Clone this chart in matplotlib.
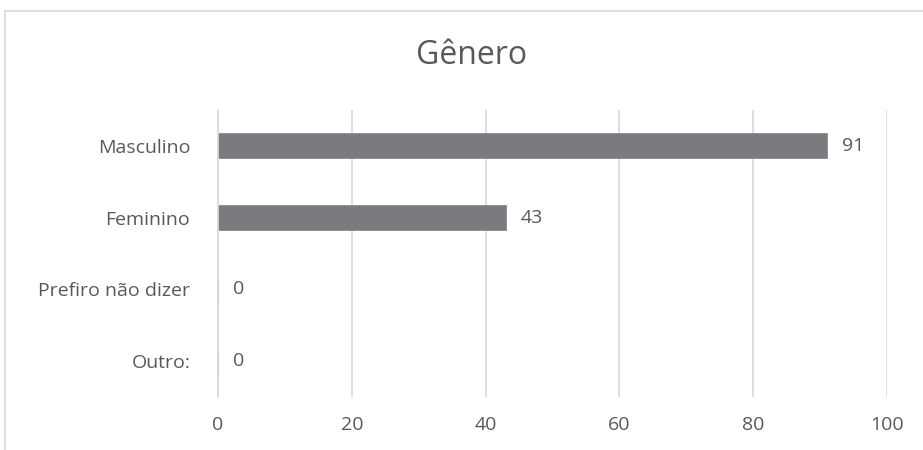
import matplotlib
matplotlib.use('Agg')
import matplotlib.pyplot as plt
from matplotlib.patches import Rectangle

# dados do gráfico
categorias = ['Masculino', 'Feminino', 'Prefiro não dizer', 'Outro:']
respostas = [91, 43, 0, 0]
x_ticks = [0, 20, 40, 60, 80, 100]
titulo = 'Gênero'

TEXT = '#595959'
GRID = '#d9d9d9'
BAR = '#7b7b7f'

plt.rcParams['font.family'] = ['Open Sans', 'DejaVu Sans']

fig = plt.figure(figsize=(9.23, 4.5), dpi=100)
ax = fig.add_axes([218 / 923, 1 - 397 / 450, (887 - 218) / 923, (397 - 110) / 450])

# moldura do gráfico (sai pela direita e por baixo)
fig.patches.append(Rectangle((5 / 923, -0.1), 1.2, 1 - 11 / 450 + 0.1,
                             transform=fig.transFigure, fill=False,
                             edgecolor=GRID, linewidth=1.2))

y = list(range(len(categorias)))
ax.barh(y, respostas, height=0.35, color=BAR, edgecolor='#8a8a8e', linewidth=0.6, zorder=3)
for yi, v in zip(y, respostas):
    ax.annotate(str(v), (v, yi), xytext=(11, 0), textcoords='offset points',
                ha='left', va='center', fontsize=14, color=TEXT)

ax.set_xlim(0, 100)
ax.set_ylim(len(categorias) - 0.5, -0.5)
ax.set_xticks(x_ticks)
ax.set_yticks(y)
ax.set_yticklabels(categorias)
ax.tick_params(axis='both', length=0, labelsize=14, labelcolor=TEXT)
ax.tick_params(axis='y', pad=20)
ax.tick_params(axis='x', pad=14)
ax.grid(axis='x', color=GRID, linewidth=1.2, zorder=0)
for s in ['top', 'right', 'bottom']:
    ax.spines[s].set_visible(False)
ax.spines['left'].set_color(GRID)
ax.spines['left'].set_linewidth(1.2)
ax.spines['left'].set_zorder(4)

fig.text(472 / 923, 1 - 56 / 450, titulo, ha='center', va='center',
         fontsize=23, color=TEXT)

fig.savefig('out.png', dpi=100)
